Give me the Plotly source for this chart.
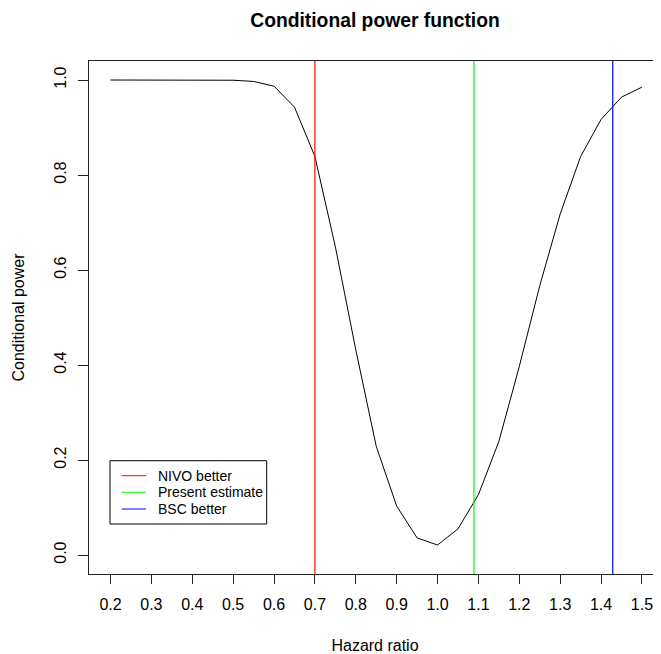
import plotly.graph_objects as go

hazard_ratio = [0.20, 0.25, 0.30, 0.35, 0.40, 0.45, 0.50, 0.55, 0.60, 0.65, 0.70,
                0.75, 0.80, 0.85, 0.90, 0.95, 1.00, 1.05, 1.10, 1.15, 1.20, 1.25,
                1.30, 1.35, 1.40, 1.45, 1.50]
cond_power = [1.000, 1.000, 1.000, 1.000, 1.000, 1.000, 0.9995, 0.997, 0.987, 0.943, 0.839,
              0.649, 0.432, 0.229, 0.103, 0.036, 0.021, 0.055, 0.127, 0.239, 0.397, 0.567,
              0.718, 0.839, 0.917, 0.964, 0.985]

ref_names = ["NIVO better", "Present estimate", "BSC better"]
ref_values = [0.7, 1.089, 1 / 0.7]
ref_colors = ["#FF0000", "#00FF00", "#0000FF"]

x_ticks = [0.2, 0.3, 0.4, 0.5, 0.6, 0.7, 0.8, 0.9, 1.0, 1.1, 1.2, 1.3, 1.4, 1.5]
y_ticks = [0.0, 0.2, 0.4, 0.6, 0.8, 1.0]

FONT = "Liberation Sans, Arial, Helvetica, sans-serif"

# page has an 8px body margin; figure is sized/offset to compensate
W, H = 653, 646
ML, MT, MB = 81, 53, 80
PW, PH = W - ML, H - MT - MB


def px(page_x):
    return (page_x - 8 - ML) / PW


def py(page_y):
    return (H - MB - (page_y - 8)) / PH


fig = go.Figure()
fig.add_trace(go.Scatter(x=hazard_ratio, y=cond_power, mode="lines",
                         line=dict(color="black", width=1), showlegend=False))
for name, v, c in zip(ref_names, ref_values, ref_colors):
    fig.add_trace(go.Scatter(x=[v, v], y=[-1, 2], mode="lines", name=name,
                             line=dict(color=c, width=1.2), showlegend=False))

# legend (drawn like R's legend box)
shapes = [dict(type="rect", xref="paper", yref="paper",
               x0=px(110), x1=px(266.7), y0=py(524), y1=py(460.7),
               line=dict(color="black", width=1), fillcolor="white", layer="above")]
annotations = []
row_y = [475.7, 492.3, 509.0]
for name, c, ry in zip(ref_names, ref_colors, row_y):
    shapes.append(dict(type="line", xref="paper", yref="paper",
                       x0=px(121.7), x1=px(146), y0=py(ry), y1=py(ry),
                       line=dict(color=c, width=1), layer="above"))
    annotations.append(dict(text=name, xref="paper", yref="paper", x=px(156),
                            y=py(ry), xanchor="left", yanchor="middle",
                            showarrow=False, font=dict(size=14, family=FONT)))

fig.update_layout(
    width=W, height=H,
    margin=dict(l=ML, r=0, t=MT, b=MB),
    paper_bgcolor="white", plot_bgcolor="white",
    font=dict(family=FONT, size=16, color="black"),
    title=dict(text="<b>Conditional power function</b>", x=(375 - 8) / W,
               xanchor="center", y=1 - (20 - 8) / H, yanchor="middle",
               font=dict(size=19.3, family=FONT)),
    xaxis=dict(range=[0.1474, 1.5466], tickvals=x_ticks,
               ticktext=[f"{t:.1f}" for t in x_ticks],
               showgrid=False, zeroline=False, showline=True, mirror=True,
               linecolor="#222222", linewidth=1, ticks="outside", ticklen=9,
               tickcolor="#222222", ticklabelstandoff=7,
               title=dict(text="Hazard ratio", standoff=28, font=dict(size=16))),
    yaxis=dict(range=[-0.04, 1.04], tickvals=y_ticks,
               ticktext=[f"{t:.1f}" for t in y_ticks], tickangle=-90,
               showgrid=False, zeroline=False, showline=True,
               linecolor="#222222", linewidth=1, ticks="outside", ticklen=10,
               tickcolor="#222222", ticklabelstandoff=6,
               title=dict(text="Conditional power", standoff=22, font=dict(size=16))),
    shapes=shapes,
    annotations=annotations,
    showlegend=False,
)

fig.write_html("out.html")
